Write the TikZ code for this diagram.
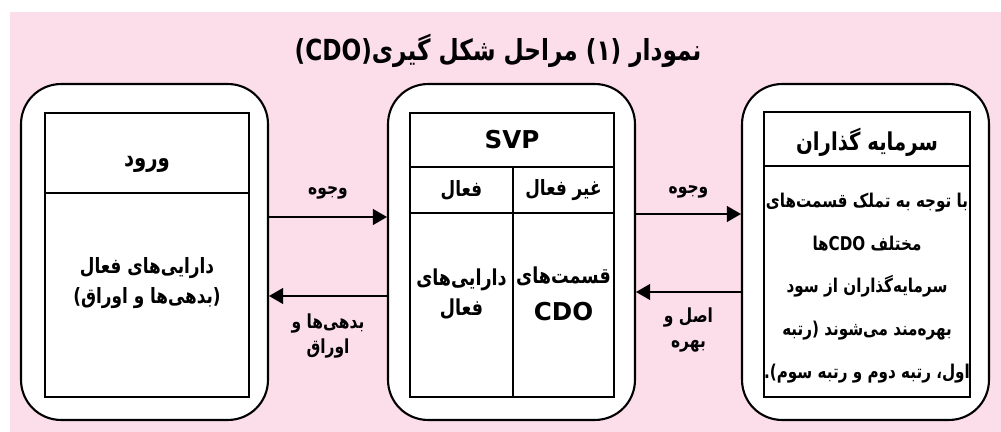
\documentclass[tikz,border=0pt]{standalone}
\usepackage{fontspec}
\usepackage{tikz}
\usetikzlibrary{arrows,shapes,backgrounds}
\setmainfont{DejaVu Sans}
\newfontfamily\farsi[Script=Arabic,FakeStretch=0.8]{DejaVu Sans}
\TeXXeTstate=1
\newcommand{\fa}[1]{\beginR #1\endR}
\newcommand{\la}[1]{\beginL #1\endL}
\definecolor{bgpink}{RGB}{252,221,234}

\begin{document}
\begin{tikzpicture}[x=0.02cm, y=-0.02cm, very thick, >=triangle 60,
		bigbox/.style={rectangle,draw,fill=white,rounded corners=0.8cm,minimum width=4.94cm,minimum height=6.72cm},
		cell/.style={rectangle,draw,inner sep=0pt},
		headtext/.style={font=\farsi\bfseries\fontsize{14}{17}\selectfont,text depth=0pt},
		bodytext/.style={font=\farsi\bfseries\fontsize{12}{17}\selectfont,align=center},
		flowtext/.style={font=\farsi\bfseries\fontsize{11}{14}\selectfont,align=center}]
		\fill[white] (0,0) rectangle (1001,432);
		\fill[bgpink] (10,12) rectangle (1001,432);
		\useasboundingbox (0,0) rectangle (1001,432);

		\node[font=\farsi\bfseries\fontsize{16.5}{20}\selectfont] (title) at (498,51) {\fa{نمودار \la{(۱)} مراحل شکل گیری\la{(CDO)}}};

		% ورود
		\node[bigbox] (in) at (144.5,252) {};
		\node[cell,headtext,text height=0.55cm,minimum width=4.08cm,minimum height=1.6cm] (in-head) at (147,153) {\fa{ورود}};
		\node[cell,minimum width=4.08cm,minimum height=4.08cm] (in-body) at (147,295) {};
		\node[bodytext] (in-text) at (147,283) {\fa{دارایی^^^^200cهای فعال}\\\fa{(بدهی^^^^200cها و اوراق)}};

		% SVP
		\node[bigbox] (svp) at (511.5,252) {};
		\node[cell,font=\bfseries\fontsize{14}{17}\selectfont,minimum width=4.08cm,minimum height=1.08cm] (svp-head) at (512,140) {SVP};
		\node[cell,bodytext,minimum width=2.06cm,minimum height=0.92cm] (svp-on) at (461.5,190) {\fa{فعال}};
		\node[cell,bodytext,minimum width=2.02cm,minimum height=0.92cm] (svp-off) at (563.5,190) {\fa{غیر فعال}};
		\node[cell,minimum width=2.06cm,minimum height=3.68cm] (svp-on-body) at (461.5,305) {};
		\node[cell,minimum width=2.02cm,minimum height=3.68cm] (svp-off-body) at (563.5,305) {};
		\node[bodytext,font=\farsi\bfseries\fontsize{12.5}{17}\selectfont] (svp-on-text) at (461.5,294) {\fa{دارایی^^^^200cهای}\\\fa{فعال}};
		\node[bodytext,font=\farsi\bfseries\fontsize{12.5}{17}\selectfont] (svp-off-text) at (563.5,294) {\fa{قسمت^^^^200cهای}\\[4pt]{\rmfamily\bfseries\fontsize{14}{17}\selectfont CDO}};

		% سرمایه گذاران
		\node[bigbox] (inv) at (865.5,252) {};
		\node[cell,headtext,minimum width=4.12cm,minimum height=1.08cm] (inv-head) at (867,139) {\fa{سرمایه گذاران}};
		\node[cell,minimum width=4.12cm,minimum height=4.62cm] (inv-body) at (867,281.5) {};
		\node[bodytext,font=\farsi\bfseries\fontsize{10.8}{24.4}\selectfont] (inv-text) at (867,288) {\fa{با توجه به تملک قسمت^^^^200cهای}\\\fa{مختلف \la{CDO}ها}\\\fa{سرمایه^^^^200cگذاران از سود}\\\fa{بهره^^^^200cمند می^^^^200cشوند (رتبه}\\\fa{اول، رتبه دوم و رتبه سوم).}};

		\draw[->] ([yshift=0.7cm]in.east) -- ([yshift=0.7cm]svp.west) node[midway,yshift=0.48cm,flowtext] {\fa{وجوه}};
		\draw[->] ([yshift=-0.88cm]svp.west) -- ([yshift=-0.88cm]in.east) node[midway,yshift=-0.8cm,flowtext] {\fa{بدهی^^^^200cها و}\\\fa{اوراق}};
		\draw[->] ([yshift=0.76cm]svp.east) -- ([yshift=0.76cm]inv.west) node[midway,yshift=0.44cm,flowtext] {\fa{وجوه}};
		\draw[->] ([yshift=-0.8cm]inv.west) -- ([yshift=-0.8cm]svp.east) node[midway,yshift=-0.76cm,flowtext] {\fa{اصل و}\\\fa{بهره}};
\end{tikzpicture}
\end{document}
